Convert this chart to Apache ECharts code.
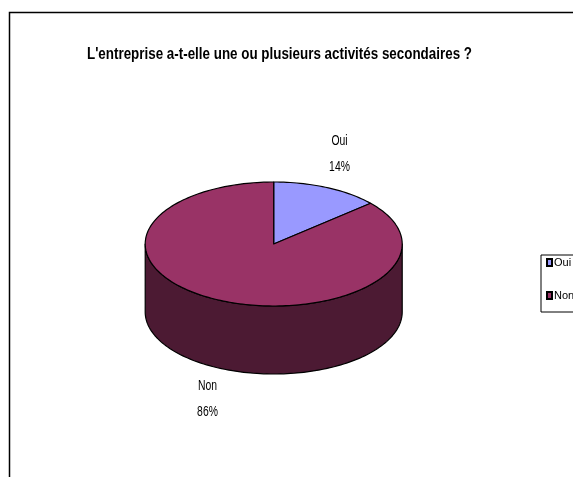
<!DOCTYPE html>
<html><head><meta charset="utf-8">
<style>html,body{margin:0;padding:0;background:#fff;overflow:hidden}#c{width:573px;height:477px}</style>
<script src="https://cdn.jsdelivr.net/npm/echarts@6/dist/echarts.min.js"></script>
</head><body><div id="c"></div>
<script>
const titleText = "L'entreprise a-t-elle une ou plusieurs activités secondaires ?";
const categories = ["Oui", "Non"];
const values = [13.6, 86.4];
const topColors = ["#9999FF", "#993366"];
const sideColors = ["#4D4D80", "#4C1A33"];
const labelPositions = [[339.5, 154], [207.5, 398.5]];

const FONT = '"Liberation Sans",Arial,sans-serif';
const cx = 273.7, cy = 244, rx = 128.5, ry = 62, depth = 68;
const total = values.reduce((a, b) => a + b, 0);
const starts = values.map((_, i) => values.slice(0, i).reduce((a, b) => a + b, 0) / total * 360);

function pt(deg, dy) {
  const r = deg * Math.PI / 180;
  return [cx + rx * Math.sin(r), cy - ry * Math.cos(r) + (dy || 0)];
}
function arc(a, b, dy) {
  const n = Math.max(2, Math.ceil(Math.abs(b - a) / 1.5));
  const out = [];
  for (let i = 0; i <= n; i++) out.push(pt(a + (b - a) * i / n, dy));
  return out;
}
const outline = { stroke: "#000", lineWidth: 1.2, lineJoin: "round" };

function renderer(i) {
  return function (params) {
    const a = starts[i], b = a + values[i] / total * 360;
    const children = [];
    const va = Math.max(a, 90), vb = Math.min(b, 270);
    if (vb > va) {
      children.push({
        type: "polygon",
        shape: { points: arc(va, vb, 0).concat(arc(vb, va, depth)) },
        style: Object.assign({ fill: sideColors[i] }, outline)
      });
    }
    children.push({
      type: "polygon",
      shape: { points: [[cx, cy]].concat(arc(a, b, 0)) },
      style: Object.assign({ fill: topColors[i] }, outline)
    });
    children.push({
      type: "text",
      x: labelPositions[i][0], y: labelPositions[i][1], scaleX: 0.67,
      style: {
        text: categories[i] + "\n" + Math.round(values[i] / total * 100) + "%",
        align: "center", verticalAlign: "middle",
        font: "15.5px " + FONT, lineHeight: 26, fill: "#000"
      }
    });
    return { type: "group", children };
  };
}

const chart = echarts.init(document.getElementById("c"), null, { renderer: "canvas" });
chart.setOption({
  animation: false,
  backgroundColor: "#fff",
  legend: {
    left: 541, top: 255, orient: "vertical",
    data: categories.map(name => ({ name, icon: "rect" })),
    itemWidth: 5, itemHeight: 7, itemGap: 22,
    padding: [2, 3, 11, 5],
    borderColor: "#000", borderWidth: 1,
    textStyle: { fontFamily: FONT, fontSize: 11, color: "#000", padding: [0, 0, 0, -3] }
  },
  graphic: [{
    type: "rect", silent: true,
    shape: { x: 9.5, y: 12.5, width: 700, height: 700 },
    style: { fill: null, stroke: "#000", lineWidth: 1.5 }
  }, {
    type: "text", silent: true,
    x: 87, y: 55, scaleX: 0.837,
    style: {
      text: titleText, align: "left", verticalAlign: "middle",
      font: "bold 16px " + FONT, fill: "#000"
    }
  }],
  series: categories.map((name, i) => ({
    type: "custom", name, coordinateSystem: "none",
    data: [values[i]],
    itemStyle: { color: topColors[i], borderColor: "#000", borderWidth: 1 },
    renderItem: renderer(i)
  }))
});
</script></body></html>
